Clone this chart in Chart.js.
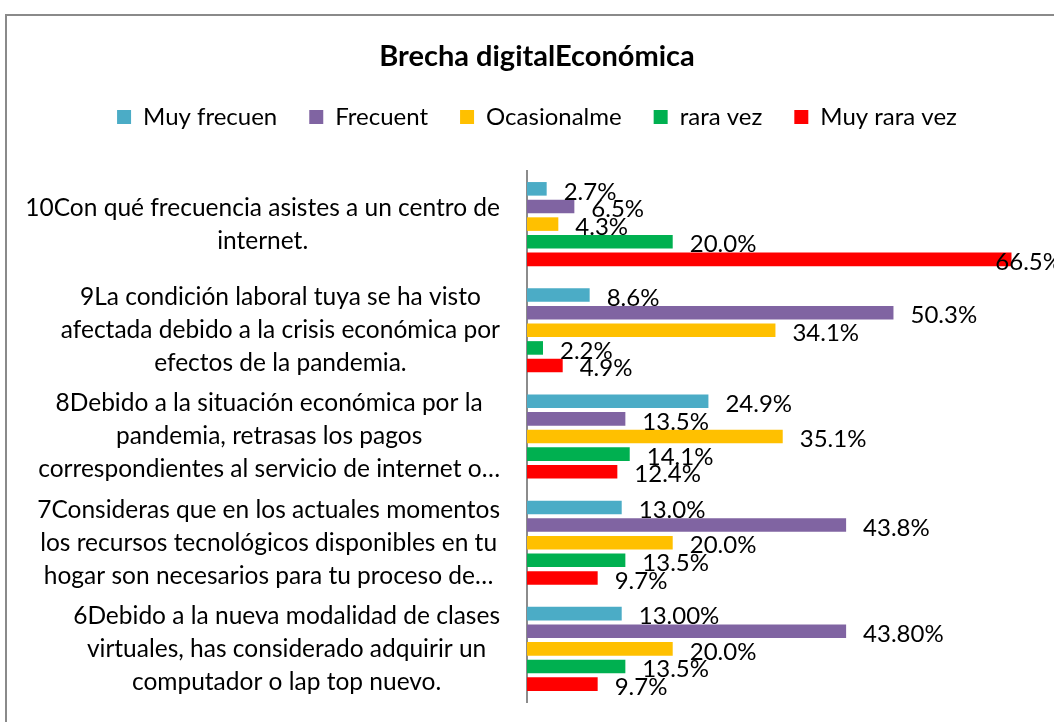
<!DOCTYPE html>
<html>
<head>
<meta charset="utf-8">
<title>Brecha digitalEconómica</title>
<script src="https://cdn.jsdelivr.net/npm/chart.js@4/dist/chart.umd.min.js"></script>
<style>
  body { margin: 0; background: #ffffff; }
  canvas { display: block; }
</style>
</head>
<body>
<canvas id="myChart" width="1054" height="722"></canvas>
<script>
'use strict'

//data
const categorias = [
  ['10Con qué frecuencia asistes a un centro de', 'internet.'],
  ['9La condición laboral tuya se ha visto', 'afectada debido a la crisis económica por', 'efectos de la pandemia.'],
  ['8Debido a la situación económica por la', 'pandemia, retrasas los pagos', 'correspondientes al servicio de internet o…'],
  ['7Consideras que en los actuales momentos', 'los recursos tecnológicos disponibles en tu', 'hogar son necesarios para tu proceso de…'],
  ['6Debido a la nueva modalidad de clases', 'virtuales, has considerado adquirir un', 'computador o lap top nuevo.']
];

const series = ['Muy frecuen', 'Frecuent', 'Ocasionalme', 'rara vez', 'Muy rara vez'];
const colores = ['#4BACC6', '#8064A2', '#FFC000', '#00B050', '#FF0000'];

const muyFrecuen = [2.7, 8.6, 24.9, 13.0, 13.0];
const frecuent = [6.5, 50.3, 13.5, 43.8, 43.8];
const ocasionalme = [4.3, 34.1, 35.1, 20.0, 20.0];
const raraVez = [20.0, 2.2, 14.1, 13.5, 13.5];
const muyRaraVez = [66.5, 4.9, 12.4, 9.7, 9.7];

// decimals shown in each data label (last group shows 13.00% / 43.80%)
const decMuyFrecuen = [1, 1, 1, 1, 2];
const decFrecuent = [1, 1, 1, 1, 2];
const decOtros = [1, 1, 1, 1, 1];

const xMax = 70;

const fontFamily = "Lato, 'Open Sans', sans-serif";
Chart.defaults.font.family = fontFamily;
Chart.defaults.color = '#000000';

//plugins

// gray frame of the chart box (left and top edges visible)
const marco = {
  id: 'marco',
  beforeDraw(chart) {
    const ctx = chart.ctx;
    ctx.save();
    ctx.fillStyle = '#ffffff';
    ctx.fillRect(0, 0, chart.width, chart.height);
    ctx.strokeStyle = '#8a8a8a';
    ctx.lineWidth = 2;
    ctx.beginPath();
    ctx.moveTo(6, chart.height);
    ctx.lineTo(6, 15);
    ctx.lineTo(chart.width, 15);
    ctx.stroke();
    ctx.restore();
  }
};

// category labels: block right aligned to the axis, lines centred in the block
const etiquetasCategoria = {
  id: 'etiquetasCategoria',
  afterDraw(chart) {
    const ctx = chart.ctx;
    const yScale = chart.scales.y;
    const derecha = chart.chartArea.left - 27;
    const alto = 33;
    ctx.save();
    ctx.font = '24.5px ' + fontFamily;
    ctx.fillStyle = '#000000';
    ctx.textAlign = 'center';
    ctx.textBaseline = 'middle';
    for (let i = 0; i < categorias.length; i++) {
      let lineas = categorias[i];
      let ancho = 0;
      for (let l = 0; l < lineas.length; l++) {
        ancho = Math.max(ancho, ctx.measureText(lineas[l]).width);
      }
      let cx = derecha - ancho / 2;
      let cy = yScale.getPixelForTick(i);
      let y0 = cy - (lineas.length - 1) * alto / 2;
      for (let l = 0; l < lineas.length; l++) {
        ctx.fillText(lineas[l], cx, y0 + l * alto);
      }
    }
    ctx.restore();
  }
};

// value labels to the right of each bar
const etiquetasValor = {
  id: 'etiquetasValor',
  afterDatasetsDraw(chart) {
    const ctx = chart.ctx;
    ctx.save();
    ctx.font = '24px ' + fontFamily;
    ctx.fillStyle = '#000000';
    ctx.textAlign = 'left';
    ctx.textBaseline = 'middle';
    chart.data.datasets.forEach((ds, d) => {
      let meta = chart.getDatasetMeta(d);
      meta.data.forEach((bar, i) => {
        let texto = ds.data[i].toFixed(ds.decimales[i]) + '%';
        let w = ctx.measureText(texto).width;
        let x = Math.min(bar.x + 17, chart.width - w + 8);
        ctx.fillText(texto, x, bar.y + 3);
      });
    });
    ctx.restore();
  }
};

//chart
function renderChart() {
  const valores = [muyFrecuen, frecuent, ocasionalme, raraVez, muyRaraVez];
  const decimales = [decMuyFrecuen, decFrecuent, decOtros, decOtros, decOtros];
  let datasets = [];
  for (let s = 0; s < series.length; s++) {
    datasets.push({
      label: series[s],
      data: valores[s],
      decimales: decimales[s],
      backgroundColor: colores[s],
      borderWidth: 0,
      barPercentage: 0.77,
      categoryPercentage: 0.83
    });
  }

  const data = {
    labels: categorias,
    datasets: datasets
  };

  const config = {
    type: 'bar',
    data: data,
    options: {
      indexAxis: 'y',
      responsive: false,
      animation: false,
      layout: {
        padding: { top: 0, left: 37, right: 17, bottom: 20 }
      },
      plugins: {
        title: {
          display: true,
          text: 'Brecha digitalEconómica',
          font: { size: 29, weight: 'bold', lineHeight: 1 },
          color: '#000000',
          padding: { top: 42.5, bottom: 1.5 }
        },
        legend: {
          display: true,
          position: 'top',
          labels: {
            boxWidth: 14,
            boxHeight: 14,
            padding: 32,
            font: { size: 24 },
            color: '#000000'
          }
        },
        tooltip: { enabled: false }
      },
      scales: {
        x: {
          type: 'linear',
          position: 'top',
          min: 0,
          max: xMax,
          ticks: { display: false },
          grid: { display: false },
          border: { display: false },
          afterFit(scale) {
            scale.height = 32;
          }
        },
        y: {
          ticks: { display: false },
          grid: { display: false },
          border: { display: true, color: '#8c8c8c', width: 2 },
          afterFit(scale) {
            scale.width = 490;
          }
        }
      }
    },
    plugins: [marco, etiquetasCategoria, etiquetasValor]
  };

  let canvasChart = document.getElementById('myChart');
  const myChart = new Chart(canvasChart, config);
}

renderChart();
</script>
</body>
</html>
